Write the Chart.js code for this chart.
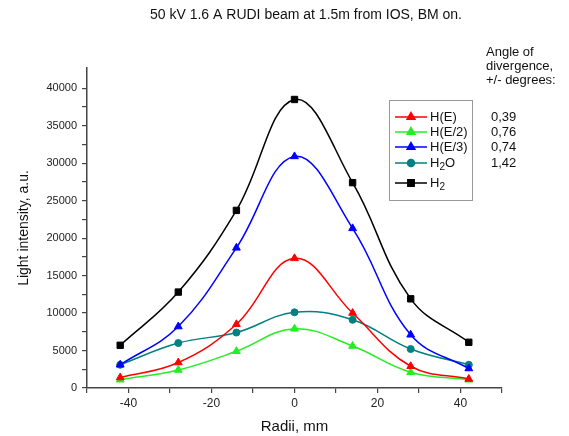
<!DOCTYPE html>
<html>
<head>
<meta charset="utf-8">
<script src="https://cdn.jsdelivr.net/npm/chart.js@4/dist/chart.umd.min.js"></script>
<style>
  body { margin: 0; background: #fff; }
  canvas { display: block; }
</style>
</head>
<body>
<canvas id="chart" width="569" height="436"></canvas>
<script>
// values
const radii = [-42, -28, -14, 0, 14, 28, 42];
const hE = [1400, 3400, 8500, 17300, 10000, 2900, 1200];
const hE2 = [1100, 2400, 4900, 7900, 5600, 2100, 1100];
const hE3 = [3100, 8200, 18700, 30900, 21300, 7100, 2600];
const h2o = [3100, 6000, 7400, 10100, 9100, 5200, 3100];
const h2 = [5700, 12800, 23700, 38500, 27400, 11900, 6100];

const seriesNames = ['H(E)', 'H(E/2)', 'H(E/3)', 'H_2O', 'H_2'];
const angles = ['0,39', '0,76', '0,74', '1,42'];
const xTicks = [-40, -20, 0, 20, 40];
const yTicks = [0, 5000, 10000, 15000, 20000, 25000, 30000, 35000, 40000];

const titleText = '50 kV 1.6 A RUDI beam at 1.5m from IOS, BM on.';
const angleHeader = ['Angle of', 'divergence,', '+/- degrees:'];

const FONT = 'Arial, "Liberation Sans", sans-serif';

function makeSet(name, values, color, style, r) {
    return {
        label: name,
        data: radii.map((x, i) => ({ x: x, y: values[i] })),
        showLine: true,
        borderColor: color,
        backgroundColor: color,
        borderWidth: 1.5,
        pointStyle: style,
        pointRadius: r,
        pointBorderWidth: 1,
        tension: 0.4
    };
}

const datasets = [
    makeSet(seriesNames[0], hE, '#ff0000', 'triangle', 4.5),
    makeSet(seriesNames[1], hE2, '#22ee22', 'triangle', 4.5),
    makeSet(seriesNames[2], hE3, '#0000ff', 'triangle', 4.5),
    makeSet(seriesNames[3], h2o, '#008080', 'circle', 3.5),
    makeSet(seriesNames[4], h2, '#000000', 'rect', 4.5)
];

// draw text with "_x" meaning a subscript character
function drawLabel(ctx, text, x, y) {
    let cx = x;
    for (let i = 0; i < text.length; i++) {
        if (text[i] === '_') {
            i++;
            ctx.font = '10px ' + FONT;
            ctx.fillText(text[i], cx, y + 4);
            cx += ctx.measureText(text[i]).width;
            ctx.font = '13px ' + FONT;
        } else {
            ctx.fillText(text[i], cx, y);
            cx += ctx.measureText(text[i]).width;
        }
    }
}

const extras = {
    id: 'extras',
    afterDraw(chart) {
        const ctx = chart.ctx;
        ctx.save();
        ctx.fillStyle = '#111';
        ctx.textBaseline = 'middle';

        ctx.font = '14px ' + FONT;
        ctx.textAlign = 'center';
        ctx.fillText(titleText, 306, 15);

        ctx.font = '13px ' + FONT;
        ctx.textAlign = 'left';
        angleHeader.forEach((t, i) => ctx.fillText(t, 486, 52 + i * 14));

        // legend box
        ctx.strokeStyle = '#999';
        ctx.lineWidth = 1;
        ctx.strokeRect(389.5, 100.5, 83, 100);

        const rows = [117, 132, 147, 163, 183];
        datasets.forEach((ds, i) => {
            const y = rows[i];
            ctx.strokeStyle = ds.borderColor;
            ctx.lineWidth = 1.5;
            ctx.beginPath();
            ctx.moveTo(395, y);
            ctx.lineTo(427, y);
            ctx.stroke();
            ctx.fillStyle = ds.backgroundColor;
            Chart.helpers.drawPoint(ctx, { pointStyle: ds.pointStyle, radius: ds.pointRadius, rotation: 0, borderWidth: 1 }, 411, y);
            ctx.fillStyle = '#111';
            ctx.font = '13px ' + FONT;
            drawLabel(ctx, ds.label, 430, y);
            if (i < angles.length) {
                ctx.fillText(angles[i], 491, y);
            }
        });
        ctx.restore();
    }
};

new Chart(document.getElementById('chart'), {
    type: 'scatter',
    data: { datasets: datasets },
    options: {
        responsive: false,
        animation: false,
        layout: { padding: { left: 0, right: 67, top: 68, bottom: 0 } },
        plugins: { legend: { display: false }, tooltip: { enabled: false } },
        scales: {
            x: {
                type: 'linear',
                min: -50,
                max: 50,
                afterFit(scale) { scale.height = 48; },
                ticks: {
                    stepSize: 10,
                    autoSkip: false,
                    maxRotation: 0,
                    padding: 3,
                    color: '#222',
                    font: { size: 12, family: FONT },
                    callback: v => xTicks.includes(v) ? String(v) : ''
                },
                grid: { drawOnChartArea: false, tickLength: 5, color: '#444', lineWidth: 1.2 },
                border: { color: '#444', width: 1.5 },
                title: {
                    display: true,
                    text: 'Radii, mm',
                    color: '#111',
                    font: { size: 15, family: FONT },
                    padding: { top: 0, bottom: 0 }
                }
            },
            y: {
                type: 'linear',
                min: 0,
                max: 42700,
                afterFit(scale) { scale.width = 87; },
                afterBuildTicks(scale) {
                    // major ticks every 5000, minor in between
                    const t = [];
                    for (let v = 0; v <= 40000; v += 2500) t.push({ value: v });
                    scale.ticks = t;
                },
                ticks: {
                    autoSkip: false,
                    padding: 5,
                    color: '#222',
                    font: { size: 11, family: FONT },
                    callback: v => yTicks.includes(v) ? String(v) : ''
                },
                grid: { drawOnChartArea: false, tickLength: 5, color: '#444', lineWidth: 1.2 },
                border: { color: '#444', width: 1.5 },
                title: {
                    display: true,
                    text: 'Light intensity, a.u.',
                    color: '#111',
                    font: { size: 14, family: FONT },
                    padding: { top: 16, bottom: 0 }
                }
            }
        }
    },
    plugins: [extras]
});
</script>
</body>
</html>
